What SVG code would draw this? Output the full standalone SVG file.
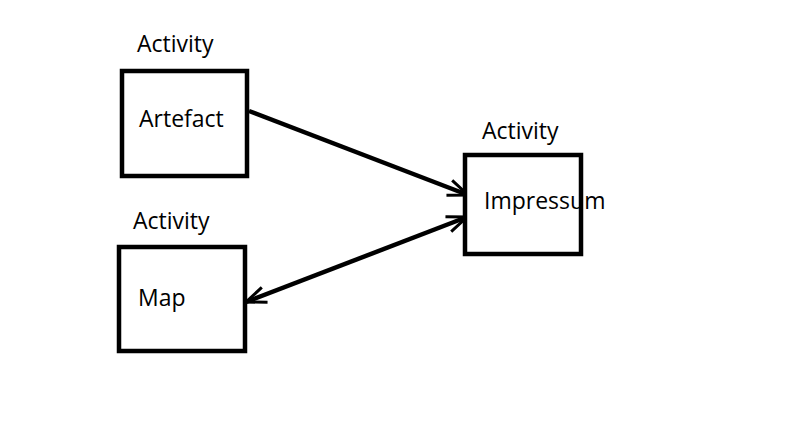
<svg xmlns="http://www.w3.org/2000/svg" width="808" height="429" viewBox="0 0 808 429">
<style>
.box{fill:#fff;stroke:#000;stroke-width:4.5}
.t{font-family:"Open Sans","Noto Sans",sans-serif;font-size:23px;fill:#000}
.ln{stroke:#000;stroke-width:4.5;fill:none}
</style>
<defs>
<marker id="ah" markerUnits="userSpaceOnUse" markerWidth="30" markerHeight="30" refX="0" refY="0" viewBox="-25 -15 30 30" orient="auto-start-reverse" overflow="visible">
<path d="M-20,-8 L0,0 L-20,8" fill="none" stroke="#000" stroke-width="3"/>
</marker>
</defs>
<rect width="808" height="429" fill="#fff"/>
<g id="connectors">
<line class="ln" x1="249" y1="111" x2="468" y2="195" marker-end="url(#ah)"/>
<line class="ln" x1="246" y1="302" x2="467" y2="217" marker-start="url(#ah)" marker-end="url(#ah)"/>
</g>
<g id="artefact">
<rect class="box" x="122" y="71" width="125" height="105"/>
<text class="t" x="137" y="52">Activity</text>
<text class="t" x="139" y="127">Artefact</text>
</g>
<g id="map">
<rect class="box" x="119" y="247" width="126" height="104"/>
<text class="t" x="133" y="229">Activity</text>
<text class="t" x="138" y="306">Map</text>
</g>
<g id="impressum">
<rect class="box" x="465" y="155" width="116" height="99"/>
<text class="t" x="482" y="139">Activity</text>
<text class="t" x="484" y="209">Impressum</text>
</g>
</svg>
